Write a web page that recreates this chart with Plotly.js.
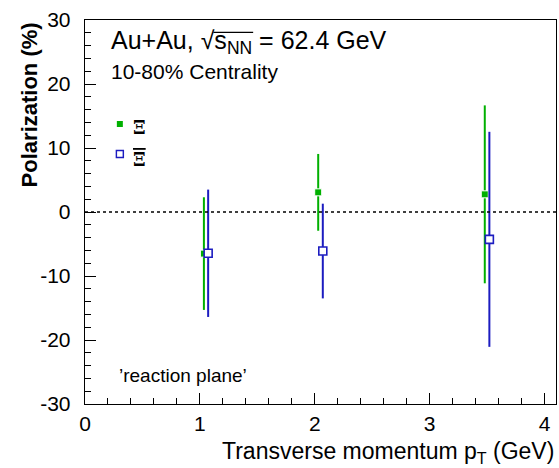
<!DOCTYPE html>
<html><head><meta charset="utf-8">
<script src="https://cdn.plot.ly/plotly-3.0.1.min.js"></script>
<style>html,body{margin:0;padding:0;background:#fff}</style>
</head><body><div id="chart" style="width:559px;height:468px"></div>
<script>
// Data
const xiPt = [1.035, 2.03, 3.48];
const xiPol = [-6.5, 3.07, 2.76];
const xiErr = [8.8, 6.0, 13.9];
const axiPt = [1.072, 2.07, 3.52];
const axiPol = [-6.45, -6.1, -4.27];
const axiErr = [9.95, 7.4, 16.8];
const xTicks = [0, 1, 2, 3, 4];
const yTicks = [-30, -20, -10, 0, 10, 20, 30];

const green = '#00b000';
const blue = '#1c1cc0';
const font = 'Liberation Sans, Arial, sans-serif';

const traces = [
  {x: xiPt, y: xiPol, type: 'scatter', mode: 'markers', name: 'Ξ',
   error_y: {type: 'data', array: xiErr, visible: true, color: green, thickness: 2, width: 0},
   marker: {symbol: 'square', size: 7, color: green, line: {color: '#ffffff', width: 1}}},
  {x: axiPt, y: axiPol, type: 'scatter', mode: 'markers', name: 'Ξbar',
   error_y: {type: 'data', array: axiErr, visible: true, color: blue, thickness: 2, width: 0},
   marker: {symbol: 'square', size: 8, color: '#ffffff', line: {color: blue, width: 1.6}}}
];

const M = {l: 85, r: 3, t: 20, b: 64};
const layout = {
  width: 559, height: 468,
  margin: M,
  paper_bgcolor: '#fff', plot_bgcolor: '#fff',
  showlegend: false,
  font: {family: font, color: '#000'},
  xaxis: {range: [0, 4.1], tickvals: xTicks, ticktext: xTicks.map(String),
    ticks: 'inside', ticklen: 11, tickwidth: 1, tickcolor: '#000',
    minor: {dtick: 0.2, ticks: 'inside', ticklen: 6, tickcolor: '#000', tickwidth: 1},
    showline: true, linecolor: '#000', linewidth: 1.3, mirror: true,
    showgrid: false, zeroline: false, tickfont: {size: 21, family: font},
    ticklabelstandoff: 0},
  yaxis: {range: [-30, 30], tickvals: yTicks, ticktext: yTicks.map(String),
    ticks: 'inside', ticklen: 11, tickwidth: 1, tickcolor: '#000',
    minor: {dtick: 2, ticks: 'inside', ticklen: 6, tickcolor: '#000', tickwidth: 1},
    showline: true, linecolor: '#000', linewidth: 1.3, mirror: true,
    showgrid: false, zeroline: false, tickfont: {size: 21, family: font},
    ticklabelstandoff: 9},
  shapes: [
    {type: 'line', xref: 'paper', x0: 0, x1: 1, yref: 'y', y0: 0, y1: 0,
     line: {color: '#000', width: 1.3, dash: 'dot'}}
  ],
  annotations: [
    {xref: 'paper', yref: 'paper', x: 0.05, y: 0.99, xanchor: 'left', yanchor: 'top',
     showarrow: false, font: {size: 25, family: font},
     text: 'Au+Au, √s<sub>NN</sub> = 62.4 GeV'},
    {xref: 'paper', yref: 'paper', x: 0.05, y: 0.9, xanchor: 'left', yanchor: 'top',
     showarrow: false, font: {size: 21, family: font},
     text: '10-80% Centrality'},
    {xref: 'paper', yref: 'paper', x: 0.098, y: 0.72, xanchor: 'left', yanchor: 'middle',
     showarrow: false, font: {size: 18, family: 'DejaVu Serif, serif'},
     text: '<b>Ξ</b>'},
    {xref: 'paper', yref: 'paper', x: 0.098, y: 0.637, xanchor: 'left', yanchor: 'middle',
     showarrow: false, font: {size: 18, family: 'DejaVu Serif, serif'},
     text: '<span style="text-decoration:overline"><b>Ξ</b></span>'},
    {xref: 'paper', yref: 'paper', x: 0.068, y: 0.073, xanchor: 'left', yanchor: 'middle',
     showarrow: false, font: {size: 19, family: font},
     text: '\u2019reaction plane\u2019'},
    {xref: 'paper', yref: 'paper', x: 1.0, y: -0.127, xanchor: 'right', yanchor: 'middle',
     showarrow: false, font: {size: 23, family: font},
     text: 'Transverse momentum p<sub>T</sub> (GeV)'},
    {xref: 'paper', yref: 'paper', x: -0.117, y: 1.0, xanchor: 'center', yanchor: 'top',
     textangle: -90, showarrow: false, font: {size: 22, family: font},
     text: '<b>Polarization (%)</b>'}
  ]
};

// legend markers on an overlay axis with a fixed 0..1 range
traces.push({x: [0.5], y: [0.729], xaxis: 'x2', yaxis: 'y2', type: 'scatter', mode: 'markers',
  marker: {symbol: 'square', size: 6, color: green}, hoverinfo: 'skip'});
traces.push({x: [0.5], y: [0.651], xaxis: 'x2', yaxis: 'y2', type: 'scatter', mode: 'markers',
  marker: {symbol: 'square', size: 7, color: '#fff', line: {color: blue, width: 1.5}}, hoverinfo: 'skip'});
layout.xaxis2 = {domain: [0.064, 0.084], range: [0, 1], visible: false, anchor: 'y2'};
layout.yaxis2 = {domain: [0, 1], range: [0, 1], visible: false, anchor: 'x2', overlaying: 'y'};

const gd = document.getElementById('chart');
Plotly.newPlot(gd, traces, layout, {staticPlot: true}).then(function () {
  // place the bar of the square root over "s_NN" using the rendered glyph extents
  let x0 = 0.265, x1 = 0.367;
  try {
    const t = gd.querySelector('.annotation .annotation-text');
    const s = t.textContent;
    const i1 = s.indexOf('√');
    const i2 = s.indexOf('NN') + 1;
    const e1 = t.getExtentOfChar(i1), e2 = t.getExtentOfChar(i2);
    const m = t.getScreenCTM();
    const gx = gd.getBoundingClientRect().left;
    const px0 = m.a * (e1.x + e1.width) + m.e - gx - 1;
    const px1 = m.a * (e2.x + e2.width) + m.e - gx + 1;
    const W = 559 - M.l - M.r;
    x0 = (px0 - M.l) / W; x1 = (px1 - M.l) / W;
  } catch (err) {}
  const shapes = layout.shapes.concat([{type: 'line', xref: 'paper', yref: 'paper',
    x0: x0, x1: x1, y0: 0.968, y1: 0.968, line: {color: '#000', width: 1.3}}]);
  return Plotly.relayout(gd, {shapes: shapes});
});
</script></body></html>
